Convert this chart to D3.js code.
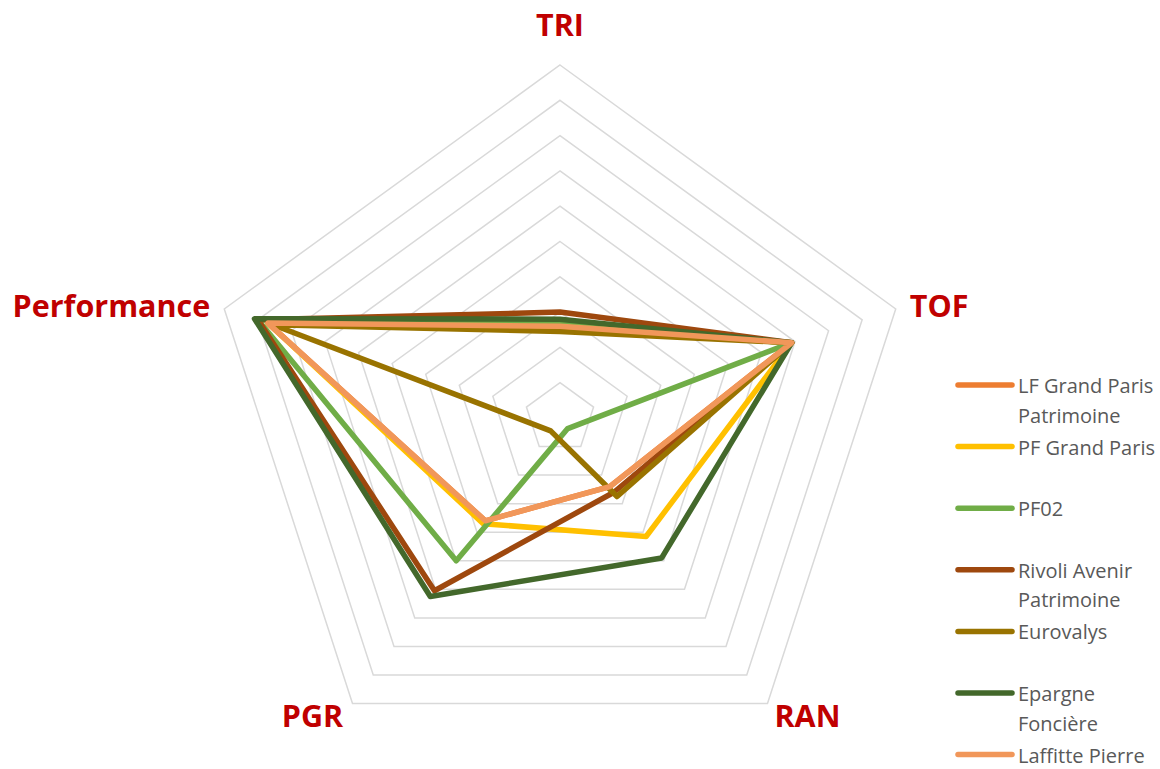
<!DOCTYPE html>
<html>
<head>
<meta charset="utf-8">
<script src="https://cdn.jsdelivr.net/npm/d3@7"></script>
<style>
  body { margin: 0; background: #fff; }
  .grid { fill: none; stroke: #d9d9d9; stroke-width: 1.5; }
  .axis-label { font-family: "Open Sans", sans-serif; font-weight: bold; font-size: 30.5px; fill: #c00000; }
  .legend text { font-family: "Open Sans", sans-serif; font-size: 20px; fill: #595959; }
</style>
</head>
<body>
<script>
"use strict";

// axes, clockwise from the top
let axes = ["TRI", "TOF", "RAN", "PGR", "Performance"];

let seriesNames = [
    ["LF Grand Paris", "Patrimoine"],
    ["PF Grand Paris"],
    ["PF02"],
    ["Rivoli Avenir", "Patrimoine"],
    ["Eurovalys"],
    ["Epargne", "Foncière"],
    ["Laffitte Pierre"]
];

let seriesColors = ["#ED7D31", "#FFC000", "#70AD47", "#9E480E", "#997300", "#43682B", "#F1975A"];

// values per series, in the order of axes
let lfGrandParis = [2.6, 6.9, 2.4, 3.6, 8.7];
let pfGrandParis = [2.55, 6.9, 4.15, 3.7, 8.7];
let pf02 = [2.7, 6.85, 0.37, 5.0, 9.0];
let rivoli = [3.0, 6.9, 2.6, 6.05, 9.0];
let eurovalys = [2.45, 6.9, 2.75, 0.45, 8.55];
let epargne = [2.8, 6.9, 4.9, 6.25, 9.1];
let laffitte = [2.6, 6.9, 2.4, 3.6, 8.7];

let seriesValues = [lfGrandParis, pfGrandParis, pf02, rivoli, eurovalys, epargne, laffitte];

let ringTicks = [1, 2, 3, 4, 5, 6, 7, 8, 9, 10];

let width = 1160,
    height = 769,
    cx = 560,
    cy = 418,
    radius = 353;

let svg = d3.select("body")
    .append("svg")
    .attr("width", width)
    .attr("height", height);

let chart = svg.append("g")
    .attr("transform", "translate(" + cx + "," + cy + ")");

let r = d3.scaleLinear()
    .domain([0, 10])
    .range([0, radius]);

let angle = d3.scalePoint()
    .domain(axes.concat(["_end"]))
    .range([0, 2 * Math.PI]);

let line = d3.lineRadial()
    .angle(function (d, i) { return angle(axes[i]); })
    .radius(function (d) { return r(d); })
    .curve(d3.curveLinearClosed);

// grid rings
chart.selectAll("path.grid")
    .data(ringTicks)
    .enter().append("path")
    .attr("class", "grid")
    .attr("d", function (t) {
        return line(axes.map(function () { return t; }));
    });

// series
chart.selectAll("path.series")
    .data(seriesValues)
    .enter().append("path")
    .attr("class", "series")
    .attr("d", line)
    .attr("fill", "none")
    .attr("stroke", function (d, i) { return seriesColors[i]; })
    .attr("stroke-width", 5.5)
    .attr("stroke-linejoin", "round");

// axis labels
axes.forEach(function (a) {
    let ang = angle(a),
        vx = r(10) * Math.sin(ang),
        vy = -r(10) * Math.cos(ang),
        t = chart.append("text")
            .attr("class", "axis-label")
            .attr("dominant-baseline", "central")
            .text(a);
    if (Math.abs(vx) < 1) {
        t.attr("x", vx).attr("y", vy - 41).attr("text-anchor", "middle");
    } else if (vy < 0) {
        t.attr("x", vx + (vx > 0 ? 14 : -14)).attr("y", vy - 4)
            .attr("text-anchor", vx > 0 ? "start" : "end");
    } else {
        t.attr("x", vx + (vx > 0 ? 40 : -40)).attr("y", vy + 11)
            .attr("text-anchor", "middle");
    }
});

// legend
let legend = svg.append("g")
    .attr("class", "legend")
    .attr("transform", "translate(958,385)");

let items = legend.selectAll("g")
    .data(seriesNames)
    .enter().append("g")
    .attr("transform", function (d, i) { return "translate(0," + (i * 61.6) + ")"; });

items.append("line")
    .attr("x1", 0)
    .attr("x2", 54)
    .attr("stroke", function (d, i) { return seriesColors[i]; })
    .attr("stroke-width", 5.5)
    .attr("stroke-linecap", "round");

items.append("text")
    .attr("x", 60)
    .attr("dominant-baseline", "central")
    .selectAll("tspan")
    .data(function (d) { return d; })
    .enter().append("tspan")
    .attr("x", 60)
    .attr("dy", function (d, i) { return i === 0 ? 0 : 29.5; })
    .text(function (d) { return d; });
</script>
</body>
</html>
